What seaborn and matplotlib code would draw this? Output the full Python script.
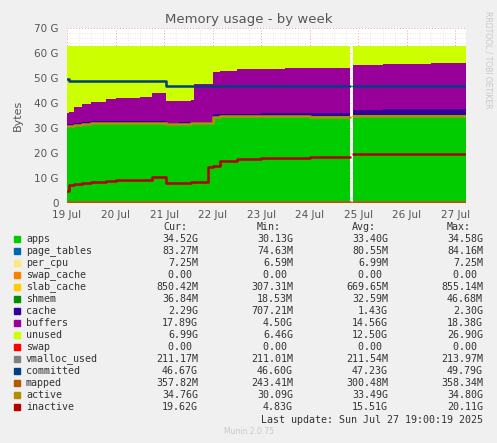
import numpy as np
import pandas as pd
import matplotlib
matplotlib.use("Agg")
import matplotlib.pyplot as plt
import seaborn as sns

# time in days from 19 Jul 00:00, values in G
days = [0.0, 0.05, 0.15, 0.3, 0.5, 0.8, 1.0, 1.5, 1.75, 1.98, 2.03, 2.3, 2.55, 2.62, 2.9, 3.0, 3.15, 3.5, 4.0, 4.5, 5.0, 5.83, 5.9, 6.5, 7.0, 7.5, 8.2]
apps    = [30.5, 30.5, 30.8, 31.0, 31.2, 31.2, 31.3, 31.3, 31.3, 31.3, 31.0, 31.0, 31.2, 31.2, 31.2, 33.8, 33.9, 33.9, 34.0, 34.0, 34.0, 34.0, 34.3, 34.4, 34.4, 34.5, 34.5]
slab    = [0.35, 0.35, 0.4, 0.45, 0.5, 0.55, 0.6, 0.6, 0.6, 0.6, 0.4, 0.45, 0.5, 0.5, 0.5, 0.7, 0.7, 0.7, 0.75, 0.75, 0.75, 0.75, 0.8, 0.82, 0.85, 0.85, 0.85]
cache   = [0.9, 0.9, 0.9, 0.95, 1.0, 1.0, 1.0, 1.0, 1.0, 1.0, 0.75, 0.8, 0.8, 0.8, 0.8, 1.2, 1.2, 1.2, 1.2, 1.2, 1.25, 1.25, 2.2, 2.25, 2.25, 2.29, 2.29]
buff_top= [36.0, 36.5, 38.5, 39.5, 40.5, 41.5, 42.0, 42.3, 44.0, 44.0, 41.0, 41.0, 41.3, 47.5, 47.5, 52.5, 53.0, 53.5, 53.8, 54.0, 54.0, 54.0, 55.3, 55.5, 55.8, 56.0, 56.0]
total   = [62.7] * len(days)
committed = [49.6, 48.8, 48.8, 48.8, 48.8, 48.8, 48.8, 48.8, 48.8, 48.8, 46.7, 46.7, 46.7, 46.7, 46.7, 46.7, 46.7, 46.7, 46.7, 46.7, 46.7, 46.7, 46.7, 46.7, 46.7, 46.7, 46.7]
active  = [31.0, 31.0, 31.3, 31.7, 31.9, 32.0, 32.0, 32.0, 32.2, 32.2, 31.6, 31.6, 31.9, 31.9, 31.9, 34.6, 34.7, 34.7, 34.7, 34.7, 34.5, 34.5, 35.0, 34.8, 34.8, 34.8, 34.76]
inactive= [5.0, 7.3, 7.6, 8.2, 8.6, 9.0, 9.3, 9.3, 10.5, 10.5, 8.0, 8.0, 8.5, 8.5, 14.5, 15.0, 17.0, 17.5, 18.0, 18.2, 18.3, 18.3, 19.5, 19.8, 19.8, 19.7, 19.62]
mapped  = [0.36] * len(days)
vmalloc = [0.21] * len(days)

legend_rows = [
    ("apps", "#00cc00", "34.52G", "30.13G", "33.40G", "34.58G"),
    ("page_tables", "#0066b3", "83.27M", "74.63M", "80.55M", "84.16M"),
    ("per_cpu", "#ffe680", "7.25M", "6.59M", "6.99M", "7.25M"),
    ("swap_cache", "#ff8000", "0.00", "0.00", "0.00", "0.00"),
    ("slab_cache", "#ffcc00", "850.42M", "307.31M", "669.65M", "855.14M"),
    ("shmem", "#008f00", "36.84M", "18.53M", "32.59M", "46.68M"),
    ("cache", "#330099", "2.29G", "707.21M", "1.43G", "2.30G"),
    ("buffers", "#990099", "17.89G", "4.50G", "14.56G", "18.38G"),
    ("unused", "#ccff00", "6.99G", "6.46G", "12.50G", "26.90G"),
    ("swap", "#ff0000", "0.00", "0.00", "0.00", "0.00"),
    ("vmalloc_used", "#808080", "211.17M", "211.01M", "211.54M", "213.97M"),
    ("committed", "#004080", "46.67G", "46.60G", "47.23G", "49.79G"),
    ("mapped", "#b35900", "357.82M", "243.41M", "300.48M", "358.34M"),
    ("active", "#b38f00", "34.76G", "30.09G", "33.49G", "34.80G"),
    ("inactive", "#b30000", "19.62G", "4.83G", "15.51G", "20.11G"),
]

df = pd.DataFrame(dict(t=days, apps=apps, slab=slab, cache=cache, buff_top=buff_top, total=total,
                       committed=committed, active=active, inactive=inactive, mapped=mapped, vmalloc=vmalloc))
df["a_top"] = df.apps
df["s_top"] = df.apps + df.slab
df["c_top"] = df.s_top + df.cache

sns.set_style("white")
fig = plt.figure(figsize=(4.97, 4.43), dpi=100, facecolor="#f0f0f0")
ax = fig.add_axes([67/497, 1-203/443, 399/497, 175/443])
ax.set_facecolor("white")

segs = [df[df.t <= 5.83], df[df.t >= 5.9]]
for s in segs:
    t = list(s.t) + ([5.84] if s.t.iloc[-1] < 5.85 else [8.22])
    def ext(c):
        return list(s[c]) + [s[c].iloc[-1]]
    ax.fill_between(t, 0, ext("s_top"), step="post", color="#00cc00", lw=0, zorder=2)
    ax.fill_between(t, ext("s_top"), ext("c_top"), step="post", color="#330099", lw=0, zorder=2)
    ax.fill_between(t, ext("c_top"), ext("buff_top"), step="post", color="#990099", lw=0, zorder=2)
    ax.fill_between(t, ext("buff_top"), ext("total"), step="post", color="#ccff00", lw=0, zorder=2)
    sd = pd.DataFrame({"t": t, "committed": ext("committed"), "active": ext("active"),
                       "inactive": ext("inactive"), "mapped": ext("mapped"), "vmalloc": ext("vmalloc")})
    for col, c in [("vmalloc", "#808080"), ("mapped", "#b35900"), ("active", "#b38f00"),
                   ("inactive", "#b30000"), ("committed", "#004080")]:
        sns.lineplot(data=sd, x="t", y=col, ax=ax, color=c, lw=1.8, drawstyle="steps-post", zorder=3)

ax.set_xlim(0, 8.22)
ax.set_ylim(0, 70)
ax.set_yticks(range(0, 71, 10))
ax.set_yticklabels([f"{v} G" if v else "0" for v in range(0, 71, 10)])
ax.set_xticks(range(9))
ax.set_xticklabels([f"{d} Jul" for d in range(19, 28)])
ax.set_xticks(np.arange(0, 8.22, 0.25), minor=True)
ax.set_yticks(np.arange(0, 71, 2), minor=True)
ax.grid(True, which="minor", color="#dddddd", ls=(0, (1, 2)), lw=0.6, zorder=1)
ax.grid(True, which="major", color="#e8a0a0", ls=(0, (1, 2)), lw=0.7, zorder=1)
ax.set_axisbelow(True)
for sp in ax.spines.values():
    sp.set_visible(False)
ax.tick_params(labelsize=7.5, colors="#555555", length=0)
ax.tick_params(axis="y", pad=6)
ax.tick_params(axis="x", pad=5)
ax.set_xlabel("")
ax.set_ylabel("Bytes", fontsize=8, color="#555555", labelpad=8)

fig.text(0.5, 1-19/443, "Memory usage - by week", ha="center", va="center", fontsize=9.5, color="#555555")
fig.text(488/497, 1-60/443, "RRDTOOL / TOBI OETIKER", rotation=270, ha="center", va="center",
         fontsize=5.5, color="#c8c8c8")

mono = "DejaVu Sans Mono"
fs = 7.2
y0 = 227
for name, x in [("Cur:", 175), ("Min:", 269), ("Avg:", 364), ("Max:", 459)]:
    fig.text(x/497, 1-y0/443, name, ha="center", va="center", family=mono, fontsize=fs, color="#333333")
for i, (name, col, cur, mn, avg, mx) in enumerate(legend_rows):
    y = 1 - (y0 + 12*(i+1))/443
    fig.patches.append(plt.Rectangle((14/497, y - 3/443), 6/497, 6/443, transform=fig.transFigure,
                                     color=col, figure=fig))
    fig.text(26/497, y, name, ha="left", va="center", family=mono, fontsize=fs, color="#333333")
    for v, x in zip([cur, mn, avg, mx], [198, 293, 388, 483]):
        vv = v if v != "0.00" else v + " "
        fig.text(x/497, y, vv, ha="right", va="center", family=mono, fontsize=fs, color="#333333")
fig.text(483/497, 1-420/443, "Last update: Sun Jul 27 19:00:19 2025", ha="right", va="center",
         family=mono, fontsize=fs, color="#333333")
fig.text(0.5, 1-432/443, "Munin 2.0.75", ha="center", va="center", fontsize=5.5, color="#c8c8c8")

fig.savefig("out.png", dpi=100, facecolor=fig.get_facecolor())
